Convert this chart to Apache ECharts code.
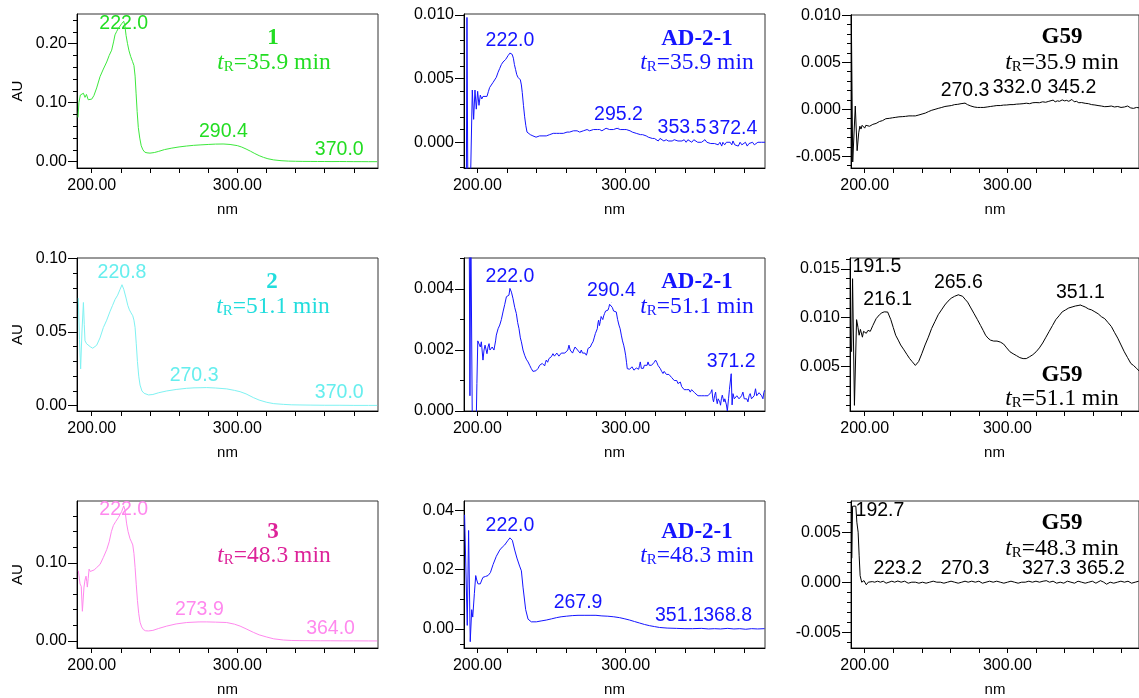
<!DOCTYPE html>
<html>
<head>
<meta charset="utf-8">
<script src="https://cdn.jsdelivr.net/npm/echarts@6/dist/echarts.min.js"></script>
<style>
  html, body { margin: 0; padding: 0; background: #fff; }
  #chart { width: 1139px; height: 698px; }
</style>
</head>
<body>
<div id="chart"></div>
<script>
// ---------- UV spectra: [wavelength (nm), absorbance (AU)] ----------

// Compound 1, tR = 35.9 min
const spec1 = [
  [190.6, 0.075], [191.2, 0.100], [192.2, 0.113], [193.2, 0.110], [194.3, 0.116], [195.4, 0.109],
  [196.4, 0.114], [197.6, 0.105], [198.8, 0.104], [200.0, 0.106], [201.5, 0.112], [203.4, 0.125],
  [205.7, 0.144], [208.0, 0.157], [210.3, 0.169], [212.0, 0.180], [213.7, 0.189], [215.0, 0.203],
  [216.0, 0.215], [217.2, 0.221], [218.3, 0.226], [219.5, 0.230], [220.6, 0.234], [222.0, 0.238],
  [222.8, 0.230], [223.6, 0.214], [224.6, 0.200], [225.6, 0.188], [226.8, 0.178], [228.0, 0.170],
  [229.0, 0.163], [229.8, 0.145], [230.5, 0.115], [231.2, 0.085], [232.0, 0.058], [233.0, 0.040],
  [234.0, 0.027], [235.2, 0.020], [236.5, 0.016], [238.0, 0.015], [240.0, 0.0145], [243.0, 0.0155],
  [246.0, 0.0175], [250.0, 0.0205], [255.0, 0.023], [260.0, 0.0250], [265.0, 0.0265], [270.0, 0.0277],
  [275.0, 0.0285], [280.0, 0.0292], [285.0, 0.0298], [290.4, 0.0300], [295.0, 0.0292], [300.0, 0.0272],
  [303.0, 0.0248], [306.0, 0.0215], [309.0, 0.0178], [312.0, 0.0138], [315.0, 0.0102], [318.0, 0.0073],
  [321.0, 0.0050], [325.0, 0.0030], [330.0, 0.0017], [335.0, 0.0010], [340.0, 0.0007], [345.0, 0.0005],
  [350.0, 0.0004], [355.0, 0.0003], [360.0, 0.0003], [365.0, 0.0002], [370.0, 0.0003], [375.0, 0.0002],
  [380.0, 0.0001], [385.0, 0.0001], [390.0, 0.0000], [396.0, 0.0000]
];

// AD-2-1, tR = 35.9 min
const spec2 = [
  [192.6, -0.003], [193.0, 0.0098], [193.6, -0.004], [195.4, -0.003], [196.6, 0.0041], [197.5, 0.0018],
  [198.4, 0.0041], [199.3, 0.0026], [200.2, 0.0040], [201.1, 0.0029], [202.0, 0.0037], [203.0, 0.0034],
  [203.8, 0.0036], [205.0, 0.0035], [206.5, 0.0036], [207.5, 0.0040], [208.3, 0.0043], [209.5, 0.0044],
  [210.6, 0.0047], [211.8, 0.0048], [212.8, 0.0051], [214.0, 0.0055], [215.1, 0.0058], [216.2, 0.0061],
  [217.3, 0.0063], [218.3, 0.0064], [219.1, 0.0065], [220.0, 0.0066], [220.7, 0.0068], [221.5, 0.0069],
  [222.0, 0.0070], [222.8, 0.0070], [223.5, 0.0069], [224.3, 0.0066], [225.0, 0.0061], [225.8, 0.0057],
  [226.6, 0.0053], [227.4, 0.0051], [228.2, 0.0050], [229.0, 0.0049], [229.7, 0.0045], [230.3, 0.0039],
  [231.1, 0.0029], [231.9, 0.0020], [232.7, 0.0013], [233.5, 0.0008], [234.5, 0.0007], [235.7, 0.0006],
  [236.6, 0.0005], [237.5, 0.0005], [238.5, 0.0004], [239.6, 0.0004], [240.9, 0.0004], [242.0, 0.0005],
  [243.0, 0.0004], [244.3, 0.0005], [245.5, 0.0006], [246.5, 0.0005], [247.6, 0.0006], [248.8, 0.0006],
  [250.0, 0.0005], [251.2, 0.0007], [252.4, 0.0006], [253.5, 0.0007], [254.6, 0.0007], [255.5, 0.0007],
  [256.8, 0.0008], [258.0, 0.0007], [259.3, 0.0008], [260.5, 0.0008], [261.6, 0.0007], [262.2, 0.0008],
  [263.5, 0.0008], [264.8, 0.0009], [266.0, 0.0008], [267.3, 0.0009], [269.0, 0.0008], [270.2, 0.0009],
  [271.5, 0.0009], [272.8, 0.0008], [274.0, 0.0010], [275.7, 0.0009], [277.0, 0.0009], [278.3, 0.0010],
  [279.5, 0.0009], [281.0, 0.0010], [282.5, 0.0010], [284.0, 0.0009], [285.4, 0.0010], [286.8, 0.0011],
  [288.0, 0.0010], [289.2, 0.0010], [290.5, 0.0011], [291.8, 0.0010], [293.0, 0.0011], [294.2, 0.0011],
  [295.2, 0.0012], [296.4, 0.0010], [297.7, 0.0011], [299.0, 0.0010], [300.4, 0.0010], [301.7, 0.0009],
  [303.0, 0.0009], [304.5, 0.0008], [305.8, 0.0008], [307.2, 0.0007], [308.5, 0.0007], [310.0, 0.0006],
  [311.4, 0.0006], [312.7, 0.0005], [313.9, 0.0005], [315.3, 0.0004], [316.6, 0.0004], [318.0, 0.0003],
  [319.4, 0.0003], [320.7, 0.0002], [322.0, 0.0001], [323.2, 0.0003], [324.5, 0.0002], [325.8, 0.0001],
  [327.4, 0.0002], [328.8, 0.0001], [330.0, 0.0002], [331.4, 0.0001], [332.8, 0.0002], [334.0, 0.0002],
  [335.3, 0.0001], [336.6, 0.0002], [338.0, 0.0001], [339.5, 0.0002], [340.8, 0.0000], [342.0, 0.0002],
  [343.3, 0.0001], [344.6, 0.0000], [346.0, 0.0002], [347.3, 0.0001], [348.6, 0.0000], [349.9, 0.0001],
  [351.2, 0.0000], [352.4, 0.0001], [353.5, 0.0002], [354.8, 0.0000], [356.0, 0.0001], [357.4, -0.0001],
  [358.7, 0.0000], [360.0, -0.0001], [361.1, 0.0000], [362.4, -0.0002], [363.6, 0.0000], [364.8, -0.0003],
  [365.6, 0.0000], [366.8, -0.0002], [368.0, 0.0000], [369.3, -0.0001], [370.5, 0.0000], [371.6, -0.0002],
  [372.4, 0.0001], [373.6, -0.0002], [374.8, -0.0001], [376.0, -0.0003], [377.2, 0.0000], [378.4, -0.0002],
  [379.6, -0.0001], [380.8, 0.0000], [382.0, -0.0003], [383.2, -0.0001], [384.4, -0.0001], [385.6, 0.0000],
  [386.8, -0.0002], [388.0, -0.0001], [389.2, 0.0000], [390.4, -0.0001], [391.6, 0.0000], [392.8, 0.0001],
  [394.0, 0.0000]
];

// G59, tR = 35.9 min
const spec3 = [
  [190.6, 0.0102], [191.6, -0.0056], [193.4, 0.00035], [194.7, -0.0044], [195.8, -0.0025], [196.6, -0.0018],
  [197.4, -0.0021], [198.2, -0.0017], [198.9, -0.0019], [200.0, -0.0020], [200.8, -0.0017], [201.6, -0.0018],
  [203.4, -0.0018], [205.7, -0.0016], [208.0, -0.0015], [210.3, -0.0013], [212.5, -0.0012], [214.8, -0.0010],
  [217.2, -0.00096], [219.5, -0.0009], [221.8, -0.00085], [224.0, -0.0008], [226.3, -0.00078], [228.6, -0.00075],
  [231.0, -0.0007], [233.3, -0.0007], [235.5, -0.0007], [238.0, -0.0006], [240.2, -0.0005], [242.5, -0.0004],
  [244.6, -0.00025], [247.0, -0.0001], [249.3, 0.0000], [251.5, 0.0001], [254.0, 0.0002], [256.2, 0.0003],
  [258.4, 0.00035], [260.7, 0.0004], [263.0, 0.0005], [265.2, 0.00053], [267.5, 0.0006], [270.3, 0.00066],
  [272.0, 0.0005], [274.4, 0.00035], [276.7, 0.00025], [279.0, 0.0002], [281.2, 0.0002], [283.5, 0.0002],
  [285.8, 0.00025], [288.0, 0.0003], [290.4, 0.00035], [292.6, 0.0004], [295.0, 0.0004], [297.3, 0.00045],
  [299.5, 0.00046], [301.8, 0.0005], [304.0, 0.0005], [306.4, 0.00055], [308.7, 0.00057], [311.0, 0.0006],
  [313.2, 0.00065], [315.5, 0.0006], [317.8, 0.0007], [320.0, 0.00072], [322.4, 0.0007], [324.7, 0.0008],
  [326.8, 0.00075], [329.0, 0.00085], [330.4, 0.0008], [332.0, 0.00098], [333.5, 0.0008], [335.0, 0.0009],
  [336.5, 0.00085], [338.4, 0.0010], [340.0, 0.0009], [341.5, 0.00095], [343.0, 0.00085], [345.2, 0.00105],
  [346.8, 0.0008], [348.4, 0.00085], [350.0, 0.0007], [352.0, 0.00072], [354.5, 0.00064], [356.8, 0.0006],
  [359.0, 0.0005], [361.3, 0.00046], [363.5, 0.0004], [365.8, 0.00035], [368.2, 0.00028], [370.5, 0.0003],
  [372.8, 0.00035], [375.0, 0.00025], [377.3, 0.0003], [379.6, 0.0002], [382.0, 0.00025], [384.2, 0.00035],
  [386.4, 0.00015], [388.3, 0.0001], [390.5, 0.0002], [392.5, 0.00015]
];

// Compound 2, tR = 51.1 min
const spec4 = [
  [190.8, 0.073], [191.6, 0.045], [192.4, 0.025], [193.3, 0.050], [194.3, 0.070], [194.9, 0.055],
  [195.4, 0.044], [196.5, 0.042], [197.7, 0.041], [199.0, 0.040], [200.7, 0.039], [202.0, 0.040],
  [203.4, 0.041], [205.7, 0.046], [208.0, 0.053], [210.3, 0.058], [212.6, 0.064], [214.3, 0.068],
  [216.0, 0.072], [217.8, 0.075], [219.5, 0.079], [220.8, 0.082], [222.0, 0.079], [223.6, 0.073],
  [224.8, 0.068], [225.9, 0.065], [227.0, 0.063], [228.2, 0.061], [229.0, 0.058], [229.8, 0.053],
  [230.6, 0.042], [231.4, 0.030], [232.3, 0.020], [233.2, 0.014], [234.5, 0.010], [236.0, 0.0084],
  [239.0, 0.0073], [242.0, 0.0076], [246.0, 0.0088], [251.5, 0.0100], [258.0, 0.0110], [265.2, 0.0118],
  [270.3, 0.0121], [275.0, 0.0122], [279.0, 0.0123], [285.0, 0.0120], [292.7, 0.0114], [298.0, 0.0104],
  [301.9, 0.0095], [306.0, 0.0080], [311.0, 0.0055], [315.0, 0.0038], [320.2, 0.0023], [325.0, 0.0014],
  [331.6, 0.0009], [337.0, 0.0006], [343.0, 0.0005], [350.0, 0.0004], [360.0, 0.0003], [370.0, 0.0003],
  [380.0, 0.0002], [390.0, 0.0002], [396.0, 0.0002]
];

// AD-2-1, tR = 51.1 min
const spec5 = [
  [194.5, 0.0062], [195.0, 0.0005], [195.6, 0.0062], [196.6, -0.0004], [199.3, -0.0002], [199.7, 0.0009],
  [200.3, 0.0023], [201.1, 0.00225], [202.0, 0.0021], [202.7, 0.00227], [203.8, 0.00167], [204.5, 0.0020],
  [205.2, 0.00216], [206.0, 0.0021], [206.5, 0.00188], [207.2, 0.0021], [207.9, 0.00221], [208.5, 0.0020],
  [209.2, 0.00194], [210.0, 0.0021], [210.6, 0.00216], [211.2, 0.0020], [211.7, 0.00194], [212.3, 0.0023],
  [212.8, 0.00249], [214.0, 0.0027], [215.1, 0.00282], [216.2, 0.0030], [217.3, 0.00325], [218.5, 0.0035],
  [219.6, 0.00375], [220.5, 0.0038], [221.3, 0.0038], [222.0, 0.00402], [223.0, 0.0039], [224.0, 0.0037],
  [225.2, 0.0034], [226.3, 0.0032], [227.2, 0.0029], [228.1, 0.0027], [229.0, 0.0024], [229.7, 0.00227],
  [230.8, 0.0020], [231.9, 0.00183], [233.0, 0.0017], [234.2, 0.00161], [235.3, 0.0015], [236.4, 0.00139],
  [237.5, 0.0013], [238.7, 0.0013], [239.5, 0.00132], [240.2, 0.00134], [241.0, 0.0014], [242.0, 0.0015],
  [242.8, 0.00145], [243.8, 0.00156], [244.6, 0.0015], [245.4, 0.00148], [246.0, 0.0016], [246.5, 0.00167],
  [247.4, 0.0016], [248.3, 0.00172], [249.1, 0.0017], [249.9, 0.00178], [250.5, 0.0018], [251.0, 0.00188],
  [252.0, 0.0018], [252.8, 0.00183], [253.6, 0.0019], [254.4, 0.00188], [255.0, 0.0018], [255.5, 0.00183],
  [256.6, 0.0019], [257.8, 0.00194], [259.0, 0.0019], [260.0, 0.00196], [261.0, 0.0020], [261.8, 0.00216],
  [262.6, 0.0020], [263.4, 0.00205], [264.2, 0.0019], [265.0, 0.0020], [265.9, 0.0021], [266.7, 0.00216],
  [267.6, 0.0020], [268.5, 0.00203], [269.3, 0.0019], [270.1, 0.0020], [270.9, 0.0019], [271.7, 0.00196],
  [272.6, 0.0019], [273.5, 0.00183], [274.0, 0.0019], [274.6, 0.00205], [275.4, 0.0020], [276.2, 0.0021],
  [277.1, 0.0022], [278.0, 0.00227], [278.8, 0.0024], [279.6, 0.00254], [280.3, 0.0026], [280.9, 0.0027],
  [281.4, 0.0029], [281.8, 0.00298], [282.3, 0.0028], [282.9, 0.00293], [283.5, 0.0031], [284.0, 0.00315],
  [284.6, 0.0030], [285.2, 0.00312], [285.8, 0.0032], [286.5, 0.00328], [287.3, 0.0033], [288.1, 0.00331],
  [288.7, 0.0034], [289.2, 0.0035], [290.4, 0.00355], [291.0, 0.0034], [291.9, 0.00328], [292.8, 0.0033],
  [293.7, 0.00325], [294.6, 0.0030], [295.5, 0.00282], [296.3, 0.0027], [297.1, 0.00249], [297.9, 0.0023],
  [298.7, 0.00216], [299.4, 0.0020], [300.0, 0.00183], [300.6, 0.0016], [301.1, 0.00139], [301.9, 0.0014],
  [302.7, 0.00137], [303.5, 0.0014], [304.3, 0.00145], [305.0, 0.0014], [305.6, 0.00134], [306.4, 0.0014],
  [307.2, 0.00141], [308.0, 0.0014], [308.8, 0.00137], [309.4, 0.0015], [309.9, 0.00161], [310.6, 0.0014],
  [311.2, 0.00134], [312.0, 0.0014], [312.6, 0.0015], [313.3, 0.0015], [313.9, 0.0015], [314.5, 0.0015],
  [315.1, 0.00161], [315.9, 0.0015], [316.6, 0.00148], [317.5, 0.0015], [318.4, 0.00156], [319.3, 0.0016],
  [320.2, 0.00167], [321.0, 0.0016], [321.8, 0.0015], [322.6, 0.00145], [323.4, 0.00139], [324.3, 0.0013],
  [325.2, 0.00123], [326.0, 0.0013], [326.7, 0.0013], [327.5, 0.0012], [328.3, 0.00115], [329.2, 0.0012],
  [330.1, 0.00123], [331.0, 0.0011], [331.9, 0.00106], [332.8, 0.0010], [333.7, 0.00101], [334.5, 0.0010],
  [335.3, 0.0009], [336.1, 0.0009], [336.9, 0.00095], [337.8, 0.0008], [338.7, 0.00079], [339.5, 0.0007],
  [340.4, 0.00068], [341.2, 0.0007], [342.0, 0.00076], [342.8, 0.0007], [343.6, 0.00062], [344.5, 0.0007],
  [345.4, 0.00068], [346.5, 0.0006], [347.6, 0.00057], [348.8, 0.0005], [349.9, 0.00052], [351.0, 0.0005],
  [352.1, 0.00049], [353.2, 0.0005], [354.4, 0.00046], [355.5, 0.0005], [356.6, 0.00049], [357.4, 0.0006],
  [358.2, 0.0007], [358.8, 0.0004], [359.3, 0.0003], [360.0, 0.0005], [360.7, 0.00062], [361.2, 0.0004],
  [361.8, 0.00024], [362.4, 0.0004], [362.9, 0.00046], [363.5, 0.0003], [364.0, 0.00019], [364.6, 0.0004],
  [365.2, 0.00052], [365.8, 0.0004], [366.3, 0.0003], [366.9, 0.0004], [367.4, 0.00046], [368.0, 0.0002],
  [368.6, 0.0000], [369.4, 0.0004], [370.0, 0.0007], [371.2, 0.00122], [371.8, 0.0002], [372.4, 0.00057],
  [373.3, 0.0004], [374.2, 0.00035], [375.0, 0.0005], [375.7, 0.00052], [376.5, 0.0004], [377.3, 0.0004],
  [378.2, 0.0005], [379.1, 0.00062], [380.0, 0.0004], [380.9, 0.00046], [381.7, 0.0004], [382.5, 0.0003],
  [383.3, 0.0005], [384.0, 0.00057], [384.9, 0.0004], [385.8, 0.00035], [386.7, 0.0005], [387.6, 0.00073],
  [388.4, 0.0005], [389.2, 0.00046], [390.0, 0.0006], [390.8, 0.00062], [391.7, 0.0005], [392.6, 0.0004],
  [393.2, 0.0006], [393.7, 0.00068]
];

// G59, tR = 51.1 min
const spec6 = [
  [190.8, 0.0065], [191.5, 0.0140], [192.8, 0.0010], [194.3, 0.0098], [195.3, 0.0090], [196.1, 0.0082],
  [197.0, 0.0088], [198.4, 0.0080], [199.2, 0.0086], [200.0, 0.0087], [201.1, 0.0084], [202.3, 0.0087],
  [203.9, 0.0086], [205.7, 0.0092], [208.0, 0.0099], [210.3, 0.0103], [212.0, 0.0105], [213.7, 0.0106],
  [216.1, 0.01058], [218.3, 0.0098], [220.0, 0.0090], [221.7, 0.0082], [223.5, 0.0077], [225.2, 0.0072],
  [227.5, 0.0067], [229.7, 0.0062], [231.5, 0.0058], [233.2, 0.0055], [235.5, 0.0051], [237.8, 0.0055],
  [240.0, 0.0063], [242.3, 0.0072], [244.6, 0.0080], [246.9, 0.0089], [249.2, 0.0096], [251.5, 0.0103],
  [253.8, 0.0108], [256.1, 0.0113], [258.4, 0.0117], [260.6, 0.0120], [263.0, 0.0122], [265.6, 0.01235],
  [268.6, 0.0122], [270.3, 0.0119], [272.1, 0.0116], [274.4, 0.0110], [276.7, 0.0104], [279.0, 0.0098],
  [281.2, 0.0092], [283.0, 0.0087], [284.7, 0.0082], [286.4, 0.0079], [288.1, 0.0077], [290.4, 0.0076],
  [292.7, 0.0076], [295.0, 0.0075], [297.3, 0.0073], [299.5, 0.0069], [301.8, 0.0065], [304.0, 0.0063],
  [306.4, 0.0061], [308.7, 0.0059], [311.0, 0.0058], [313.2, 0.0058], [315.6, 0.0060], [317.8, 0.0062],
  [320.1, 0.0065], [322.4, 0.0069], [324.7, 0.0074], [327.0, 0.0080], [329.3, 0.0086], [331.6, 0.0092],
  [333.9, 0.0098], [336.2, 0.0102], [338.4, 0.0106], [340.7, 0.0108], [343.0, 0.0110], [345.3, 0.0111],
  [347.6, 0.0112], [349.5, 0.01125], [351.1, 0.0113], [352.8, 0.0112], [354.5, 0.0111], [356.8, 0.0109],
  [359.0, 0.0108], [361.3, 0.0106], [363.6, 0.0104], [365.9, 0.0101], [368.2, 0.0099], [370.5, 0.0095],
  [372.8, 0.0091], [375.0, 0.0085], [377.3, 0.0079], [379.6, 0.0072], [381.9, 0.0065], [384.2, 0.0059],
  [386.5, 0.0053], [388.3, 0.0051], [390.5, 0.0048], [392.5, 0.0045]
];

// Compound 3, tR = 48.3 min
const spec7 = [
  [190.8, 0.090], [191.5, 0.080], [192.0, 0.073], [192.8, 0.070], [193.6, 0.038], [194.7, 0.069],
  [195.4, 0.078], [196.1, 0.083], [196.6, 0.076], [197.0, 0.069], [197.6, 0.080], [198.2, 0.092],
  [199.0, 0.089], [200.0, 0.088], [201.7, 0.091], [203.4, 0.094], [205.7, 0.098], [208.0, 0.107],
  [210.3, 0.117], [212.0, 0.127], [213.5, 0.140], [214.9, 0.148], [216.5, 0.153], [218.3, 0.158],
  [219.5, 0.162], [220.6, 0.166], [222.0, 0.173], [222.8, 0.168], [224.0, 0.150], [225.0, 0.140],
  [226.3, 0.131], [227.3, 0.127], [228.2, 0.123], [229.0, 0.112], [229.8, 0.094], [230.6, 0.072],
  [231.4, 0.052], [232.3, 0.035], [233.2, 0.024], [234.3, 0.018], [235.5, 0.0145], [237.0, 0.013],
  [239.0, 0.0128], [242.0, 0.0135], [246.0, 0.016], [251.5, 0.019], [258.0, 0.0218], [265.2, 0.0236],
  [273.9, 0.0244], [279.0, 0.0244], [285.0, 0.0241], [292.7, 0.0236], [298.0, 0.0215], [301.9, 0.019],
  [306.0, 0.0155], [311.0, 0.011], [315.0, 0.0078], [320.2, 0.005], [325.0, 0.0027], [331.6, 0.0012],
  [337.0, 0.0006], [343.0, 0.0004], [350.0, 0.0003], [357.0, 0.0002], [364.0, 0.0002], [372.0, 0.0001],
  [380.0, 0.0001], [390.0, 0.0000], [396.0, 0.0000]
];

// AD-2-1, tR = 48.3 min
const spec8 = [
  [191.4, 0.0385], [193.2, 0.0012], [194.1, 0.0332], [195.2, -0.0043], [196.2, 0.0065], [196.9, 0.0040],
  [198.0, 0.0120], [198.9, 0.0180], [199.6, 0.0165], [200.4, 0.0152], [201.2, 0.0155], [202.0, 0.0152],
  [203.0, 0.0165], [203.8, 0.0174], [205.5, 0.0177], [207.2, 0.0180], [208.8, 0.0190], [210.6, 0.0217],
  [212.8, 0.0245], [215.1, 0.0266], [216.8, 0.0276], [218.4, 0.0283], [220.7, 0.0299], [222.0, 0.0307],
  [223.6, 0.0299], [225.2, 0.0266], [226.7, 0.0239], [228.5, 0.0212], [229.7, 0.0196], [230.8, 0.0141],
  [232.6, 0.0065], [234.2, 0.0033], [236.4, 0.0024], [239.8, 0.0024], [243.0, 0.0027], [246.5, 0.0030],
  [250.0, 0.0034], [253.3, 0.0038], [256.5, 0.0041], [260.0, 0.0043], [264.0, 0.0045], [267.9, 0.0046],
  [272.0, 0.0046], [276.0, 0.0046], [280.0, 0.0046], [284.0, 0.0044], [288.0, 0.0043], [292.0, 0.0041],
  [296.0, 0.0038], [299.5, 0.0034], [302.7, 0.0030], [306.0, 0.0025], [309.4, 0.0020], [312.8, 0.0015],
  [316.2, 0.0011], [319.5, 0.0008], [322.9, 0.0005], [328.0, 0.0003], [334.2, 0.0002], [340.0, 0.0001],
  [345.0, 0.0001], [351.1, 0.0002], [356.0, 0.0000], [360.0, 0.0001], [364.0, 0.0000], [368.8, 0.0002],
  [373.0, 0.0000], [377.0, 0.0001], [381.0, -0.0001], [385.0, 0.0001], [389.0, 0.0000], [393.7, 0.0001]
];

// G59, tR = 48.3 min
const spec9 = [
  [191.0, 0.0024], [191.5, 0.0076], [192.7, 0.0077], [193.8, 0.0076], [194.5, 0.0060], [195.4, 0.0050],
  [196.1, 0.0027], [196.8, 0.00065], [197.9, 0.0000], [198.7, 0.0001], [199.5, 0.00016], [200.3, 0.0000],
  [201.1, -0.00026], [202.5, 0.0000], [203.8, -0.0001], [205.3, 0.00006], [207.0, 0.0000], [209.0, 0.0001],
  [211.0, 0.0000], [213.0, 0.0001], [215.0, -0.0001], [217.0, 0.0000], [219.0, 0.0001], [221.0, 0.0000],
  [223.2, 0.00012], [225.5, 0.0000], [228.0, 0.0001], [230.5, -0.0001], [233.0, 0.0000], [235.5, 0.0000],
  [238.0, -0.0001], [240.5, 0.0000], [243.0, -0.0001], [245.5, 0.0000], [248.0, 0.0001], [250.5, 0.0000],
  [253.0, 0.0000], [255.5, -0.0001], [258.0, 0.0000], [260.5, 0.0001], [263.0, 0.0000], [265.5, -0.0001],
  [268.0, 0.0000], [270.3, 0.0001], [272.5, 0.0000], [275.0, 0.0001], [277.5, 0.0000], [280.0, 0.0001],
  [282.5, -0.0001], [285.0, 0.0000], [287.5, 0.0001], [290.0, 0.0000], [292.5, 0.0001], [295.0, 0.0000],
  [297.5, -0.0001], [300.0, 0.0000], [302.5, 0.0001], [305.0, 0.0000], [307.5, -0.0001], [310.0, 0.0000],
  [312.5, 0.0000], [315.0, 0.0001], [317.5, 0.0000], [320.0, 0.0001], [322.5, 0.0000], [325.0, 0.0001],
  [327.3, 0.00015], [329.5, 0.0000], [332.0, 0.0001], [334.5, -0.0001], [337.0, 0.0000], [339.5, -0.0001],
  [342.0, 0.0001], [344.5, 0.0000], [347.0, -0.0001], [349.5, 0.0001], [352.0, 0.0000], [354.5, -0.0001],
  [357.0, 0.0000], [359.5, 0.0001], [362.0, -0.0001], [365.2, 0.00015], [367.5, 0.0000], [369.5, -0.0002],
  [370.8, -0.0003], [372.0, 0.0000], [374.5, -0.0001], [377.0, 0.0000], [379.5, 0.0001], [382.0, 0.0000],
  [384.5, 0.0001], [387.0, -0.0001], [389.5, 0.0000], [392.0, 0.0001]
];

// ---------- Labelled maxima: [wavelength, absorbance] ----------
const peaks1 = [[222.0, 0.238], [290.4, 0.0300], [370.0, 0.0003]];
const peaks2 = [[222.0, 0.0070], [295.2, 0.0012], [353.5, 0.0002], [372.4, 0.0001]];
const peaks3 = [[270.3, 0.00066], [332.0, 0.00098], [345.2, 0.00105]];
const peaks4 = [[220.8, 0.082], [270.3, 0.0121], [370.0, 0.0003]];
const peaks5 = [[222.0, 0.00402], [290.4, 0.00355], [371.2, 0.00122]];
const peaks6 = [[191.5, 0.0140], [216.1, 0.01058], [265.6, 0.01235], [351.1, 0.0113]];
const peaks7 = [[222.0, 0.173], [273.9, 0.0244], [364.0, 0.0002]];
const peaks8 = [[222.0, 0.0307], [267.9, 0.0046], [351.1, 0.0002], [368.8, 0.0002]];
const peaks9 = [[192.7, 0.0077], [223.2, 0.00012], [270.3, 0.0001], [327.3, 0.00015], [365.2, 0.00015]];

// ---------- Tick labels ----------
const xTickLabels = [200, 300];
const yTicks1 = [0, 0.1, 0.2];
const yTicks2 = [0, 0.005, 0.010];
const yTicks3 = [-0.005, 0, 0.005, 0.010];
const yTicks4 = [0, 0.05, 0.10];
const yTicks5 = [0, 0.002, 0.004];
const yTicks6 = [0.005, 0.010, 0.015];
const yTicks7 = [0, 0.10];
const yTicks8 = [0, 0.02, 0.04];
const yTicks9 = [-0.005, 0, 0.005];

// ---------- Panel captions ----------
const compoundNames = ['1', 'AD-2-1', 'G59', '2', 'AD-2-1', 'G59', '3', 'AD-2-1', 'G59'];
const retentionTimes = ['35.9', '35.9', '35.9', '51.1', '51.1', '51.1', '48.3', '48.3', '48.3'];

// ---------- Drawing ----------
const SANS = '"Liberation Sans", Arial, sans-serif';
const SERIF = '"Liberation Serif", "Times New Roman", serif';
const BLUE = '#1414ff';

const spectra = [spec1, spec2, spec3, spec4, spec5, spec6, spec7, spec8, spec9];
const peakSets = [peaks1, peaks2, peaks3, peaks4, peaks5, peaks6, peaks7, peaks8, peaks9];
const yTickSets = [yTicks1, yTicks2, yTicks3, yTicks4, yTicks5, yTicks6, yTicks7, yTicks8, yTicks9];

// plot box geometry (px), axis windows and styling for each panel
const panelLayout = [
  { left: 77,  top: 14,  width: 301, height: 154, xMin: 189.9, xMax: 396.6, yMin: -0.0107,  yMax: 0.2503,  minor: 0.02,  dec: 2, au: true,
    line: '#3de83d', label: '#22dd22', title: '#22dd22', tx: 273, ty: 38, rx: 274, ry: 63 },
  { left: 464, top: 14,  width: 301, height: 154, xMin: 191.0, xMax: 394.0, yMin: -0.00202, yMax: 0.01007, minor: 0.001, dec: 3,
    line: BLUE, label: BLUE, title: BLUE, tx: 697, ty: 39, rx: 697, ry: 63 },
  { left: 851, top: 15,  width: 294, height: 153, xMin: 190.4, xMax: 392.2, yMin: -0.00624, yMax: 0.01003, minor: 0.001, dec: 3,
    line: '#000', label: '#000', title: '#000', tx: 1062, ty: 37, rx: 1062, ry: 63 },
  { left: 77,  top: 258, width: 301, height: 153, xMin: 189.9, xMax: 396.6, yMin: -0.0036,  yMax: 0.1002,  minor: 0.01,  dec: 2, au: true,
    line: '#7ff2f2', label: '#66eeee', title: '#22dddd', tx: 272, ty: 282, rx: 273, ry: 307 },
  { left: 464, top: 258, width: 301, height: 153, xMin: 191.0, xMax: 394.0, yMin: 0,        yMax: 0.00502, minor: 0.001, dec: 3,
    line: BLUE, label: BLUE, title: BLUE, tx: 697, ty: 282, rx: 697, ry: 307 },
  { left: 850, top: 258, width: 295, height: 153, xMin: 189.7, xMax: 392.2, yMin: 0.00042,  yMax: 0.01613, minor: 0.001, dec: 3,
    line: '#000', label: '#000', title: '#000', tx: 1062, ty: 375, rx: 1062, ry: 399 },
  { left: 77,  top: 501, width: 301, height: 152, xMin: 189.9, xMax: 396.6, yMin: -0.00905, yMax: 0.1793,  minor: 0.02,  dec: 2, au: true,
    line: '#ff88ee', label: '#ff88ee', title: '#dd2299', tx: 273, ty: 532, rx: 274, ry: 556 },
  { left: 464, top: 501, width: 301, height: 152, xMin: 191.0, xMax: 394.0, yMin: -0.00642, yMax: 0.04314, minor: 0.005, dec: 2,
    line: BLUE, label: BLUE, title: BLUE, tx: 697, ty: 532, rx: 697, ry: 556 },
  { left: 851, top: 501, width: 294, height: 152, xMin: 190.4, xMax: 392.2, yMin: -0.00658, yMax: 0.00812, minor: 0.001, dec: 3,
    line: '#000', label: '#000', title: '#000', tx: 1062, ty: 523, rx: 1062, ry: 549 }
];

// per-label placement tweaks, keyed "panel:wavelength"
const labelTweaks = {
  '0:222.0': { offset: [0, 15] },
  '1:353.5': { offset: [-23, 0] },
  '2:332.0': { offset: [-36, 0] },
  '5:191.5': { align: 'left' },
  '6:222.0': { offset: [0, 16] },
  '7:351.1': { offset: [-22, 0] },
  '8:192.7': { position: 'right', distance: 1, offset: [0, 5] }
};

function stepValues(min, max, step) {
  const out = [];
  const first = Math.ceil(min / step - 1e-9);
  const last = Math.floor(max / step + 1e-9);
  for (let k = first; k <= last; k++) out.push(+(k * step).toFixed(6));
  return out;
}

const grids = [], xAxes = [], yAxes = [], series = [], graphics = [];

panelLayout.forEach((p, i) => {
  grids.push({
    left: p.left, top: p.top, width: p.width, height: p.height,
    show: true, borderColor: '#333', borderWidth: 1, backgroundColor: 'transparent'
  });

  xAxes.push({
    type: 'value', gridIndex: i, min: p.xMin, max: p.xMax,
    name: 'nm', nameLocation: 'middle', nameGap: 34,
    nameTextStyle: { fontSize: 15, color: '#000', fontFamily: SANS },
    axisLine: { show: true, onZero: false, lineStyle: { color: '#000', width: 1 } },
    axisTick: { show: true, length: 5, customValues: stepValues(200, p.xMax, 20), lineStyle: { color: '#000' } },
    axisLabel: { customValues: xTickLabels, formatter: v => v.toFixed(2), fontSize: 16, color: '#000', fontFamily: SANS, margin: 10 },
    splitLine: { show: false }
  });

  const yt = yTickSets[i];
  yAxes.push({
    type: 'value', gridIndex: i, min: p.yMin, max: p.yMax, position: 'left',
    name: p.au ? 'AU' : '', nameLocation: 'middle', nameGap: 52,
    nameTextStyle: { fontSize: 15, color: '#000', fontFamily: SANS },
    axisLine: { show: true, onZero: false, lineStyle: { color: '#000', width: 1 } },
    axisTick: { show: true, length: 9, customValues: yt, lineStyle: { color: '#000' } },
    axisLabel: { customValues: yt, formatter: v => v.toFixed(p.dec), fontSize: 16, color: '#000', fontFamily: SANS, margin: 10 },
    splitLine: { show: false }
  });
  // finer ticks drawn by a twin axis sharing the same scale
  yAxes.push({
    type: 'value', gridIndex: i, min: p.yMin, max: p.yMax, position: 'left',
    axisLine: { show: false, onZero: false },
    axisTick: { show: true, length: 4, customValues: stepValues(p.yMin, p.yMax, p.minor), lineStyle: { color: '#000' } },
    axisLabel: { show: false },
    splitLine: { show: false }
  });

  series.push({
    type: 'line', xAxisIndex: i, yAxisIndex: 2 * i, data: spectra[i],
    symbol: 'none', showSymbol: false, clip: true, silent: true,
    lineStyle: { color: p.line, width: 1 }
  });

  series.push({
    type: 'scatter', xAxisIndex: i, yAxisIndex: 2 * i, clip: false, silent: true,
    symbolSize: 0.5, itemStyle: { color: p.line, opacity: 1 },
    data: peakSets[i].map(pt => {
      const item = { value: pt };
      const tweak = labelTweaks[i + ':' + pt[0].toFixed(1)];
      if (tweak) item.label = tweak;
      return item;
    }),
    label: {
      show: true, position: 'top', distance: 2, opacity: 1,
      formatter: prm => prm.value[0].toFixed(1),
      color: p.label, fontSize: 19.5, fontFamily: SANS
    }
  });

  graphics.push({
    type: 'text', x: p.tx, y: p.ty, silent: true,
    style: {
      text: compoundNames[i], fill: p.title, fontSize: 23, fontWeight: 'bold', fontFamily: SERIF,
      align: 'center', verticalAlign: 'middle'
    }
  });
  graphics.push({
    type: 'text', x: p.rx, y: p.ry, silent: true,
    style: {
      text: '{t|t}{r|R}{n|=' + retentionTimes[i] + ' min}',
      align: 'center', verticalAlign: 'middle',
      rich: {
        t: { fill: p.title, fontSize: 23.5, fontStyle: 'italic', fontFamily: SERIF, lineHeight: 24 },
        r: { fill: p.title, fontSize: 15, fontFamily: SERIF, lineHeight: 12, verticalAlign: 'bottom' },
        n: { fill: p.title, fontSize: 23.5, fontFamily: SERIF, lineHeight: 24 }
      }
    }
  });
});

const chart = echarts.init(document.getElementById('chart'), null, { renderer: 'canvas' });
chart.setOption({
  animation: false,
  backgroundColor: '#fff',
  grid: grids,
  xAxis: xAxes,
  yAxis: yAxes,
  series: series,
  graphic: graphics
});
</script>
</body>
</html>
